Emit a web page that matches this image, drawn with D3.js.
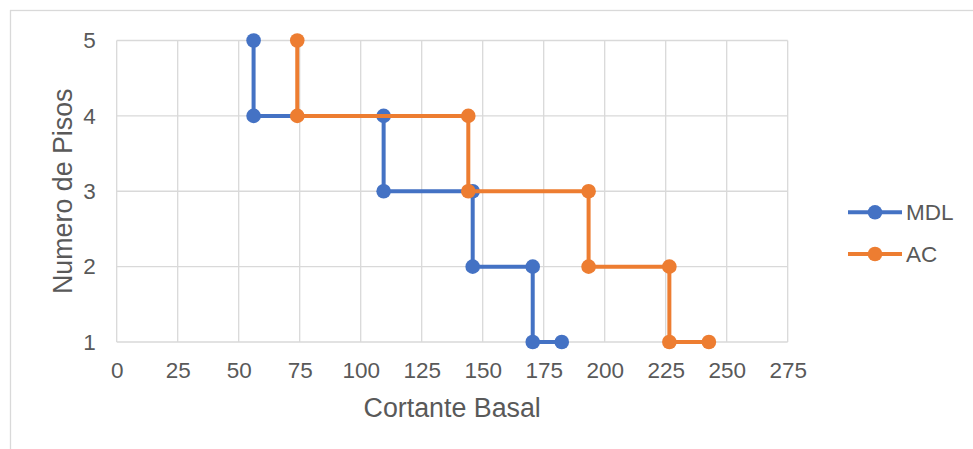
<!DOCTYPE html>
<html>
<head>
<meta charset="utf-8">
<script src="https://cdn.jsdelivr.net/npm/d3@7"></script>
<style>
  html, body { margin: 0; padding: 0; background: #fff; }
  svg { display: block; font-family: "Liberation Sans", Arial, sans-serif; }
</style>
</head>
<body>
<svg id="chart" width="973" height="449"></svg>
<script>
// Storey shear profiles (Cortante Basal vs. floor number)
const seriesNames = ["MDL", "AC"];
const seriesColors = ["#4472C4", "#ED7D31"];
const mdlShear  = [56.1, 56.1, 109.4, 109.4, 145.9, 145.9, 170.5, 170.5, 182.4];
const mdlFloors = [5, 4, 4, 3, 3, 2, 2, 1, 1];
const acShear   = [74.0, 74.0, 144.1, 144.1, 193.4, 193.4, 226.5, 226.5, 242.7];
const acFloors  = [5, 4, 4, 3, 3, 2, 2, 1, 1];
const xTicks = [0, 25, 50, 75, 100, 125, 150, 175, 200, 225, 250, 275];
const yTicks = [1, 2, 3, 4, 5];
const xTitle = "Cortante Basal";
const yTitle = "Numero de Pisos";

const series = [
  { name: seriesNames[0], color: seriesColors[0], pts: mdlShear.map((v, i) => [v, mdlFloors[i]]) },
  { name: seriesNames[1], color: seriesColors[1], pts: acShear.map((v, i) => [v, acFloors[i]]) }
];

const svg = d3.select("#chart");
const plot = { left: 116.7, right: 787.7, top: 40.5, bottom: 342 };
const textColor = "#595959";
const gridColor = "#d9d9d9";
const tickFont = "22.5px";
const titleFont = "26.8px";

// chart frame
svg.append("rect")
  .attr("x", 10.5).attr("y", 10.5)
  .attr("width", 1000).attr("height", 1000)
  .attr("fill", "none").attr("stroke", gridColor).attr("stroke-width", 1.3);

const x = d3.scaleLinear().domain([0, 275]).range([plot.left, plot.right]);
const y = d3.scaleLinear().domain([1, 5]).range([plot.bottom, plot.top]);

// gridlines
const grid = svg.append("g").attr("stroke", gridColor).attr("stroke-width", 1.3);
grid.selectAll("line.v").data(xTicks).join("line")
  .attr("x1", d => x(d)).attr("x2", d => x(d))
  .attr("y1", plot.top).attr("y2", plot.bottom);
grid.selectAll("line.h").data(yTicks).join("line")
  .attr("x1", plot.left).attr("x2", plot.right)
  .attr("y1", d => y(d)).attr("y2", d => y(d));

// axes (labels only, Excel style)
const xAxis = svg.append("g")
  .attr("transform", `translate(0,${plot.bottom})`)
  .call(d3.axisBottom(x).tickValues(xTicks).tickFormat(d3.format("d")).tickSize(0).tickPadding(20));
const yAxis = svg.append("g")
  .attr("transform", `translate(${plot.left},0)`)
  .call(d3.axisLeft(y).tickValues(yTicks).tickFormat(d3.format("d")).tickSize(0).tickPadding(21));
[xAxis, yAxis].forEach(a => {
  a.select(".domain").remove();
  a.selectAll("text").attr("fill", textColor)
    .style("font-size", tickFont)
    .style("font-family", "'Liberation Sans', Arial, sans-serif");
});

// axis titles
svg.append("text")
  .attr("x", (plot.left + plot.right) / 2).attr("y", 417)
  .attr("text-anchor", "middle").attr("fill", textColor)
  .style("font-size", titleFont).text(xTitle);
svg.append("text")
  .attr("transform", `translate(72,${(plot.top + plot.bottom) / 2}) rotate(-90)`)
  .attr("text-anchor", "middle").attr("fill", textColor)
  .style("font-size", titleFont).text(yTitle);

// series
const line = d3.line().x(d => x(d[0])).y(d => y(d[1]));
series.forEach(s => {
  const g = svg.append("g");
  g.append("path").datum(s.pts)
    .attr("d", line).attr("fill", "none")
    .attr("stroke", s.color).attr("stroke-width", 4)
    .attr("stroke-linejoin", "round");
  g.selectAll("circle").data(s.pts).join("circle")
    .attr("cx", d => x(d[0])).attr("cy", d => y(d[1]))
    .attr("r", 7.3).attr("fill", s.color);
});

// legend
const legendY = [212.3, 254];
series.forEach((s, i) => {
  const g = svg.append("g").attr("transform", `translate(0,${legendY[i]})`);
  g.append("line").attr("x1", 848).attr("x2", 902)
    .attr("stroke", s.color).attr("stroke-width", 4);
  g.append("circle").attr("cx", 875).attr("cy", 0).attr("r", 7.3).attr("fill", s.color);
  g.append("text").attr("x", 906).attr("y", 0).attr("dy", "0.36em")
    .attr("fill", textColor).style("font-size", tickFont).text(s.name);
});
</script>
</body>
</html>
